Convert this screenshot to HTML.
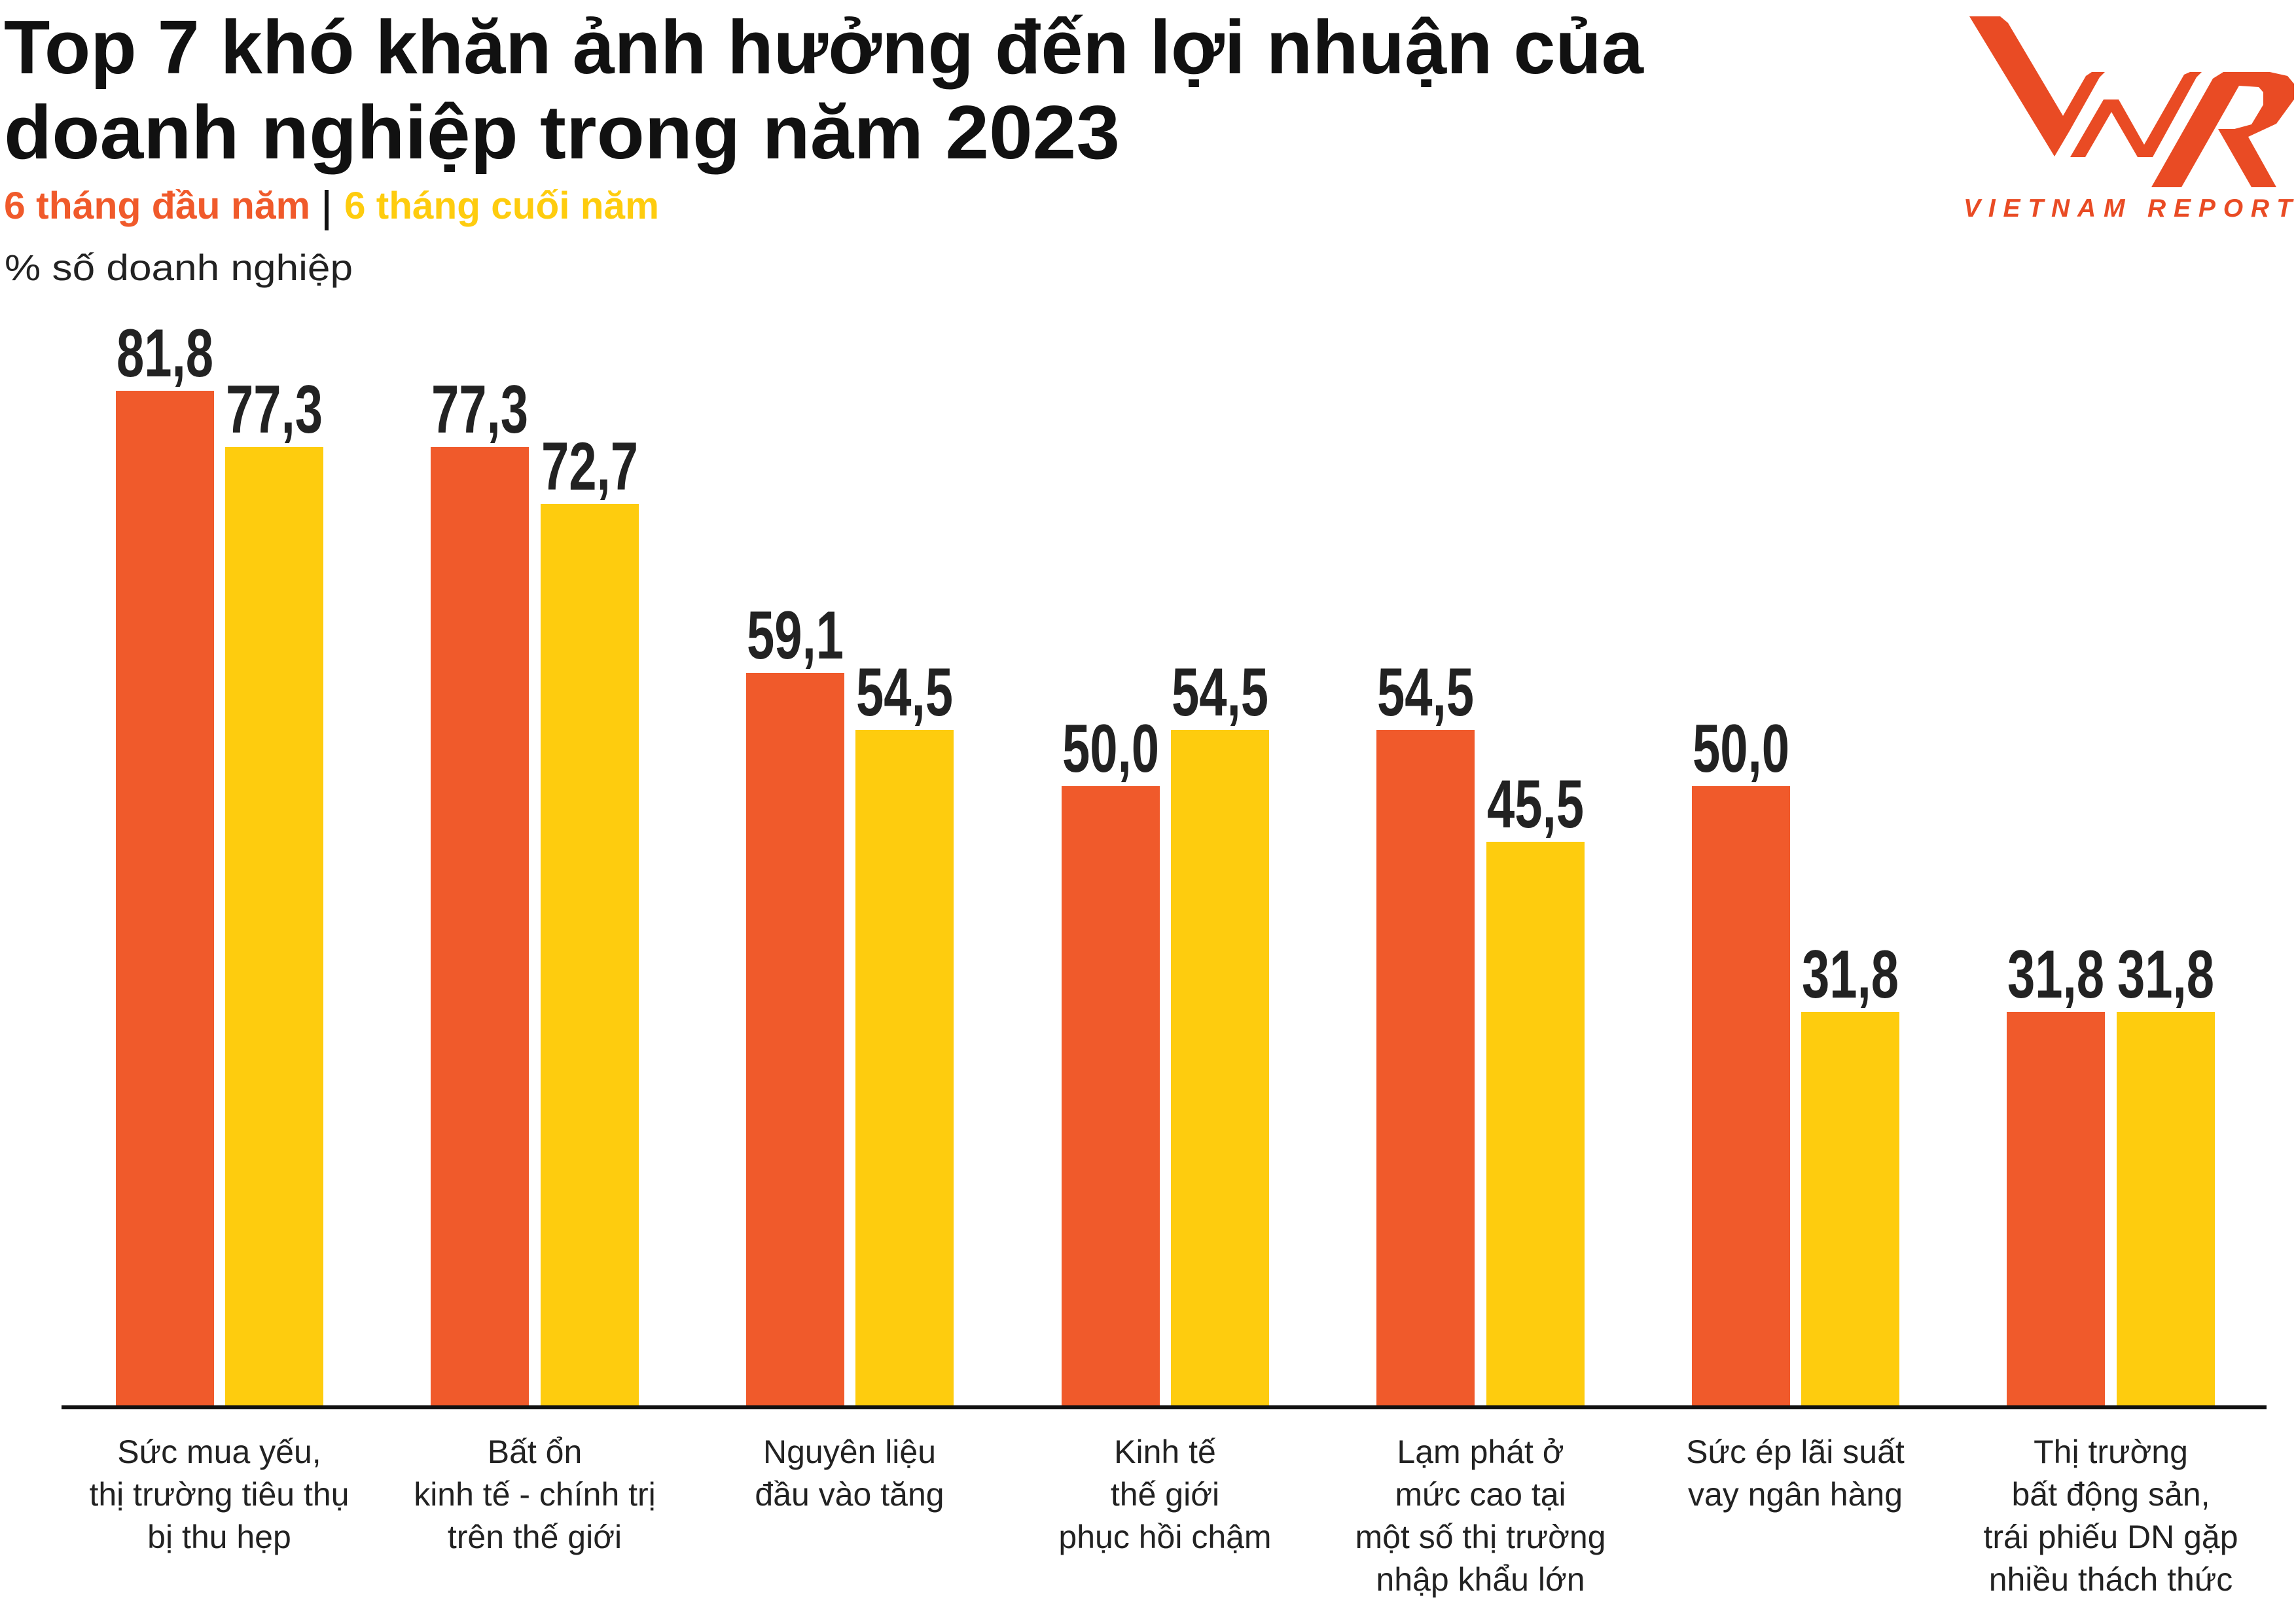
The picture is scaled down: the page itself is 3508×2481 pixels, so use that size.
<!DOCTYPE html>
<html><head><meta charset="utf-8"><style>
html,body{margin:0;padding:0;background:#fff;}
svg{display:block;}
</style></head><body>
<svg width="3508" height="2481" viewBox="0 0 3508 2481" xmlns="http://www.w3.org/2000/svg">
<g font-family="'Liberation Sans', 'DejaVu Sans', sans-serif">
<text x="6" y="112" font-size="116" font-weight="bold" fill="#111" textLength="2505" lengthAdjust="spacingAndGlyphs">Top 7 khó khăn ảnh hưởng đến lợi nhuận của</text>
<text x="6" y="242" font-size="116" font-weight="bold" fill="#111" textLength="1705" lengthAdjust="spacingAndGlyphs">doanh nghiệp trong năm 2023</text>
<text x="6" y="334" font-size="58" font-weight="bold" fill="#F05A2B" textLength="468" lengthAdjust="spacingAndGlyphs">6 tháng đầu năm</text>
<rect x="496" y="290" width="6" height="62" fill="#111"/>
<text x="526" y="334" font-size="58" font-weight="bold" fill="#FECC0E" textLength="481" lengthAdjust="spacingAndGlyphs">6 tháng cuối năm</text>
<text x="7" y="428" font-size="56" fill="#222" textLength="532" lengthAdjust="spacingAndGlyphs">% số doanh nghiệp</text>
</g>
<!-- logo -->
<g fill="#E94B24">
<polygon points="3009,25 3056,25 3068,35 3152,177 3187,116 3196,110 3216,110 3208,118 3162,200 3139,239"/>
<polygon points="3163,240 3214,152 3237,152 3276,221 3337,114 3346,110 3364,110 3356,118 3289,240 3266,240 3226,171 3186,240"/>
<polygon points="3287,286 3381,120 3397,110 3468,110 3495,116 3505,128 3505,152 3478,189 3435,209 3478,286 3440,286 3389,197 3414,197 3440,190 3458,160 3458,141 3451,133 3421,131 3333,286"/>
</g>
<text x="3000" y="331" font-family="'Liberation Sans', sans-serif" font-size="39" font-weight="bold" font-style="italic" fill="#E94B24" textLength="502" lengthAdjust="spacing">VIETNAM REPORT</text>

<g>
<rect x="177" y="597" width="150" height="1553" fill="#F05A2B"/>
<rect x="344" y="683" width="150" height="1467" fill="#FECC0E"/>
<rect x="658" y="683" width="150" height="1467" fill="#F05A2B"/>
<rect x="826" y="770" width="150" height="1380" fill="#FECC0E"/>
<rect x="1140" y="1028" width="150" height="1122" fill="#F05A2B"/>
<rect x="1307" y="1115" width="150" height="1035" fill="#FECC0E"/>
<rect x="1622" y="1201" width="150" height="949" fill="#F05A2B"/>
<rect x="1789" y="1115" width="150" height="1035" fill="#FECC0E"/>
<rect x="2103" y="1115" width="150" height="1035" fill="#F05A2B"/>
<rect x="2271" y="1286" width="150" height="864" fill="#FECC0E"/>
<rect x="2585" y="1201" width="150" height="949" fill="#F05A2B"/>
<rect x="2752" y="1546" width="150" height="604" fill="#FECC0E"/>
<rect x="3066" y="1546" width="150" height="604" fill="#F05A2B"/>
<rect x="3234" y="1546" width="150" height="604" fill="#FECC0E"/>
</g>
<rect x="94" y="2147" width="3369" height="6" fill="#111"/>

<g font-family="'Liberation Sans Narrow', 'Liberation Sans', sans-serif" font-weight="bold" font-size="104" fill="#222" text-anchor="middle">
<text x="252" y="575" textLength="148" lengthAdjust="spacingAndGlyphs">81,8</text>
<text x="419" y="661" textLength="148" lengthAdjust="spacingAndGlyphs">77,3</text>
<text x="733" y="661" textLength="148" lengthAdjust="spacingAndGlyphs">77,3</text>
<text x="901" y="748" textLength="148" lengthAdjust="spacingAndGlyphs">72,7</text>
<text x="1215" y="1006" textLength="148" lengthAdjust="spacingAndGlyphs">59,1</text>
<text x="1382" y="1093" textLength="148" lengthAdjust="spacingAndGlyphs">54,5</text>
<text x="1697" y="1179" textLength="148" lengthAdjust="spacingAndGlyphs">50,0</text>
<text x="1864" y="1093" textLength="148" lengthAdjust="spacingAndGlyphs">54,5</text>
<text x="2178" y="1093" textLength="148" lengthAdjust="spacingAndGlyphs">54,5</text>
<text x="2346" y="1264" textLength="148" lengthAdjust="spacingAndGlyphs">45,5</text>
<text x="2660" y="1179" textLength="148" lengthAdjust="spacingAndGlyphs">50,0</text>
<text x="2827" y="1524" textLength="148" lengthAdjust="spacingAndGlyphs">31,8</text>
<text x="3141" y="1524" textLength="148" lengthAdjust="spacingAndGlyphs">31,8</text>
<text x="3309" y="1524" textLength="148" lengthAdjust="spacingAndGlyphs">31,8</text>
</g>

<g font-family="'Liberation Sans', 'DejaVu Sans', sans-serif" font-size="50" fill="#222" text-anchor="middle">
<text x="335" y="2235">Sức mua yếu,</text>
<text x="335" y="2300">thị trường tiêu thụ</text>
<text x="335" y="2365">bị thu hẹp</text>
<text x="817" y="2235">Bất ổn</text>
<text x="817" y="2300">kinh tế - chính trị</text>
<text x="817" y="2365">trên thế giới</text>
<text x="1298" y="2235">Nguyên liệu</text>
<text x="1298" y="2300">đầu vào tăng</text>
<text x="1780" y="2235">Kinh tế</text>
<text x="1780" y="2300">thế giới</text>
<text x="1780" y="2365">phục hồi chậm</text>
<text x="2262" y="2235">Lạm phát ở</text>
<text x="2262" y="2300">mức cao tại</text>
<text x="2262" y="2365">một số thị trường</text>
<text x="2262" y="2430">nhập khẩu lớn</text>
<text x="2743" y="2235">Sức ép lãi suất</text>
<text x="2743" y="2300">vay ngân hàng</text>
<text x="3225" y="2235">Thị trường</text>
<text x="3225" y="2300">bất động sản,</text>
<text x="3225" y="2365">trái phiếu DN gặp</text>
<text x="3225" y="2430">nhiều thách thức</text>
</g>
</svg>
</body></html>
